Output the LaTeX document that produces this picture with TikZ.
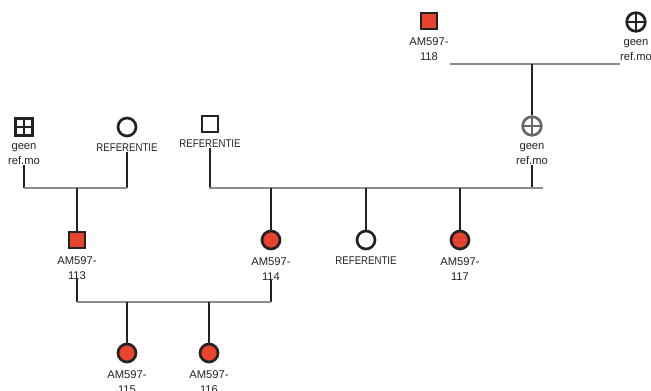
\documentclass[tikz,border=0pt]{standalone}
\usepackage{fontspec}
\setmainfont{Liberation Sans}
\usepackage{graphicx}
\usepackage{tikz}
\usetikzlibrary{positioning}
\definecolor{pedred}{HTML}{E8432E}
\definecolor{sibgray}{HTML}{8C8C8C}
\definecolor{unkgray}{HTML}{686868}
\definecolor{inkdark}{HTML}{222222}

\tikzset{
  male/.style={rectangle,draw=inkdark,line width=2pt,minimum size=12pt,inner sep=0pt,fill=white},
  female/.style={circle,draw=inkdark,line width=2pt,minimum size=13.5pt,inner sep=0pt,fill=white},
  affected/.style={fill=pedred},
  crossed/.style={line width=2pt,minimum size=14pt,inner sep=0pt,fill=white,
    path picture={\draw[line width=2pt]
      (path picture bounding box.north) -- (path picture bounding box.south)
      (path picture bounding box.west) -- (path picture bounding box.east);}},
  pedlabel/.style={font=\fontsize{8.4}{11.2}\selectfont,align=center,inner sep=0pt,text=inkdark},
  descent/.style={inkdark,line width=2pt},
  sibline/.style={sibgray,line width=2pt}
}
\newcommand{\refpers}{\scalebox{0.86}[1]{REFERENTIE}}

\begin{document}
\begin{tikzpicture}[x=0.75pt,y=-0.75pt]
  \useasboundingbox (0,0) rectangle (651,391);
  % grandparents
  \node[male,affected] (p118) at (429,21) {};
  \node[pedlabel,below=5pt of p118] (l118) {AM597-\\118};
  \node[crossed,circle,draw=inkdark] (pgr) at (636,22) {};
  \node[pedlabel,below=5pt of pgr] (lgr) {geen\\ref.mo};
  \node[crossed,rectangle,draw=inkdark,minimum size=13pt] (pgl) at (24,127) {};
  \node[pedlabel,below=5pt of pgl] (lgl) {geen\\ref.mo};
  \node[female] (prf) at (127,127) {};
  \node[pedlabel,below=5pt of prf] (lrf) {\refpers};
  % parents
  \node[male] (prm) at (210,124) {};
  \node[pedlabel,below=5pt of prm] (lrm) {\refpers};
  \node[crossed,circle,draw=unkgray,
    path picture={\draw[unkgray,line width=2pt]
      (path picture bounding box.north) -- (path picture bounding box.south)
      (path picture bounding box.west) -- (path picture bounding box.east);}] (pgm) at (532,126) {};
  \node[pedlabel,below=5pt of pgm] (lgm) {geen\\ref.mo};
  \node[male,affected] (p113) at (77,240) {};
  \node[pedlabel,below=5pt of p113] (l113) {AM597-\\113};
  \node[female,affected] (p114) at (271,240) {};
  \node[pedlabel,below=5pt of p114] (l114) {AM597-\\114};
  \node[female] (pref) at (366,240) {};
  \node[pedlabel,below=5pt of pref] (lref) {\refpers};
  \node[female,affected] (p117) at (460,240) {};
  \node[pedlabel,below=5pt of p117] (l117) {AM597-\\117};
  % children
  \node[female,affected] (p115) at (127,353) {};
  \node[pedlabel,below=5pt of p115] (l115) {AM597-\\115};
  \node[female,affected] (p116) at (209,353) {};
  \node[pedlabel,below=5pt of p116] (l116) {AM597-\\116};

  % top couple
  \coordinate (ta) at (450,64);
  \coordinate (tb) at (620,64);
  \coordinate (tm) at (532,64);
  \draw[sibline] (ta) -- (tb);
  \draw[descent] (tm) -- (pgm);
  % left couple
  \coordinate (la) at (24,188);
  \coordinate (lb) at (127,188);
  \coordinate (lm) at (77,188);
  \draw[descent] (lgl.south) -- (lgl.south |- la);
  \draw[descent] (lrf.south) -- (lrf.south |- lb);
  \draw[sibline] (la) -- (lb);
  \draw[descent] (lm) -- (p113);
  % right couple
  \coordinate (ra) at (209,188);
  \coordinate (rb) at (543,188);
  \draw[descent] (lrm.south) -- (lrm.south |- ra);
  \draw[descent] (lgm.south) -- (lgm.south |- rb);
  \draw[sibline] (ra) -- (rb);
  \foreach \kid in {p114,pref,p117} {
    \draw[descent] (\kid |- ra) -- (\kid);
  }
  % bottom couple
  \coordinate (ba) at (77,302);
  \coordinate (bb) at (271,302);
  \draw[descent] (l113.south) -- (l113.south |- ba);
  \draw[descent] (l114.south) -- (l114.south |- bb);
  \draw[sibline] (ba) -- (bb);
  \foreach \kid in {p115,p116} {
    \draw[descent] (\kid |- ba) -- (\kid);
  }
\end{tikzpicture}
\end{document}
